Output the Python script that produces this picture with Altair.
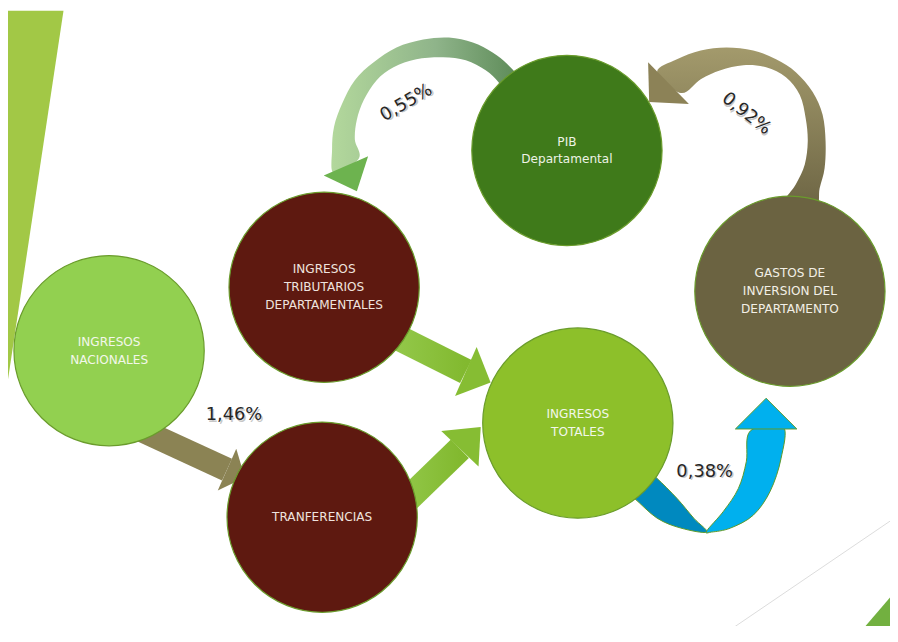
import math
import altair as alt
import pandas as pd

# ---------------- plot frame (diagram coordinates = picture pixels) ----------------
XMIN, XMAX = 8, 898
YMIN, YMAX = 8, 626
W, H = XMAX - XMIN, YMAX - YMIN
LINE_H = 18

# ---------------- nodes ----------------
node_label = [
    "INGRESOS\nNACIONALES",
    "INGRESOS\nTRIBUTARIOS\nDEPARTAMENTALES",
    "TRANFERENCIAS",
    "INGRESOS\nTOTALES",
    "PIB\nDepartamental",
    "GASTOS DE\nINVERSION DEL\nDEPARTAMENTO",
]
node_x = [110, 327, 325, 583, 572, 797]
node_y = [351, 287, 519, 424, 149, 291]
node_fill = ["#92d050", "#5e1910", "#5e1910", "#8dc02a", "#3f7a1a", "#6b6341"]
node_text_color = ["#f2f7ea", "#efe3df", "#efe3df", "#f2f7ea", "#eef3e6", "#f2efe6"]

# ---------------- percentage labels ----------------
pct_text = ["1,46%", "0,55%", "0,92%", "0,38%"]
pct_x = [236, 410, 753, 711]
pct_y = [416, 101, 112, 473]
pct_angle = [0, 330, 38, 0]

# ---------------- arrows ----------------
a_nac_tra_x = [140, 229]
a_nac_tra_y = [430, 471]
a_nac_tra_head = (229, 471, 247, 479, 23)

a_tri_tot_x = [398, 470]
a_tri_tot_y = [336, 372]
a_tri_tot_head = (470, 372, 495, 383, 27)

a_tra_tot_x = [402, 464]
a_tra_tot_y = [510, 450]
a_tra_tot_head = (464, 450, 485, 428, 26)

# blue folded ribbon: outlines of the two parts
a_tot_gas_dark_x = [628, 640, 663, 687, 713, 700, 683, 663, 650]
a_tot_gas_dark_y = [492, 500, 520, 530, 534, 520, 500, 480, 470]
a_tot_gas_x = [713, 730, 745, 753, 757, 790, 788, 777, 760, 737, 718]
a_tot_gas_y = [533, 513, 490, 463, 432, 427, 460, 493, 517, 530, 534]
a_tot_gas_head = (773, 430, 773, 399, 31)

# olive ribbon outline (outer edge, then inner edge back)
a_gas_pib_x = [663, 683, 707, 733, 760, 783, 803, 820, 830, 833, 832, 827, 822,
               788, 803, 812, 815, 813, 807, 793, 773, 750, 727, 707, 687]
a_gas_pib_y = [70, 57, 48, 45, 48, 57, 70, 90, 113, 140, 167, 187, 208,
               208, 183, 163, 140, 117, 93, 75, 65, 63, 68, 77, 91]
a_gas_pib_head = (674.5, 81, 655, 100, 29.5)

# green ribbon outline (outer edge, then inner edge back)
a_pib_tri_x = [337, 335, 337, 345, 358, 377, 400, 427, 453, 477, 497, 512, 525,
               512, 503, 490, 470, 447, 420, 397, 380, 367, 360, 358, 362]
a_pib_tri_y = [172, 148, 125, 102, 78, 60, 45, 37, 35, 40, 50, 62, 80,
               95, 80, 68, 58, 55, 57, 65, 78, 98, 118, 138, 157]
a_pib_tri_head = (349, 164.5, 360, 190, 24.4)

# decorations
deco_left_x = [64, 8]
deco_left_y = [8, 380]
deco_br_x = [898, 862]
deco_br_y = [600, 642]
deco_line_x = [723, 898]
deco_line_y = [642, 523]

X = alt.X("x:Q", scale=alt.Scale(domain=[XMIN, XMAX], nice=False, zero=False), axis=None)
Y = alt.Y("y:Q", scale=alt.Scale(domain=[YMIN, YMAX], nice=False, zero=False, reverse=True), axis=None)


def shaft(xs, ys, width, stroke, interp="linear"):
    df = pd.DataFrame({"x": xs, "y": ys, "i": list(range(len(xs)))})
    return alt.Chart(df).mark_line(
        strokeWidth=width, strokeCap="butt", strokeJoin="round",
        interpolate=interp, stroke=stroke
    ).encode(x=X, y=Y, order="i:Q")


def ribbon(xs, ys, fill, stroke=None):
    df = pd.DataFrame({"x": xs, "y": ys, "i": list(range(len(xs)))})
    kw = dict(interpolate="cardinal-closed", fill=fill, strokeJoin="round")
    if stroke:
        kw.update(stroke=stroke, strokeWidth=1)
    else:
        kw.update(strokeWidth=0)
    return alt.Chart(df).mark_line(**kw).encode(x=X, y=Y, order="i:Q")


def head(spec, fill, stroke=None):
    bx, by, tx, ty, hw = spec
    L = math.hypot(tx - bx, ty - by)
    theta = math.degrees(math.atan2(ty - by, tx - bx))
    ang = (theta + 90) % 360
    path = "M-1,0L1,0L0,%.3fZ" % (-L / hw)
    df = pd.DataFrame({"x": [bx], "y": [by]})
    kw = dict(shape=path, size=(2 * hw) ** 2, angle=ang, filled=True,
              fill=fill, opacity=1)
    if stroke:
        kw.update(stroke=stroke, strokeWidth=1)
    else:
        kw.update(strokeWidth=0)
    return alt.Chart(df).mark_point(**kw).encode(x=X, y=Y)


def grad(c0, c1, x1=0, y1=0, x2=1, y2=0, mid=None):
    stops = [alt.GradientStop(color=c0, offset=0)]
    if mid:
        stops.append(alt.GradientStop(color=mid[0], offset=mid[1]))
    stops.append(alt.GradientStop(color=c1, offset=1))
    return alt.Gradient(gradient="linear", stops=stops, x1=x1, y1=y1, x2=x2, y2=y2)


layers = []

# decorations
layers.append(
    alt.Chart(pd.DataFrame({"x": deco_left_x, "y": deco_left_y, "x0": [8, 8]}))
    .mark_area(orient="horizontal", color="#a2c846")
    .encode(y=Y, x=X, x2="x0:Q")
)
layers.append(
    alt.Chart(pd.DataFrame({"x": deco_br_x, "y": deco_br_y, "x0": [898, 898]}))
    .mark_area(orient="horizontal", color="#72b040")
    .encode(y=Y, x=X, x2="x0:Q")
)
layers.append(shaft(deco_line_x, deco_line_y, 1, "#dcdcdc"))

# straight arrows
layers.append(shaft(a_nac_tra_x, a_nac_tra_y, 24, "#8b8354"))
layers.append(head(a_nac_tra_head, "#8b8354"))

layers.append(shaft(a_tri_tot_x, a_tri_tot_y, 26, grad("#93c84a", "#82b92f")))
layers.append(head(a_tri_tot_head, "#86bd33"))

layers.append(shaft(a_tra_tot_x, a_tra_tot_y, 26, grad("#93c84a", "#82b92f")))
layers.append(head(a_tra_tot_head, "#86bd33"))

# curved blue arrow (folded ribbon, thin green outline)
layers.append(ribbon(a_tot_gas_dark_x, a_tot_gas_dark_y, "#0089bf", "#5f9a2a"))
layers.append(ribbon(a_tot_gas_x, a_tot_gas_y, "#00b0ee", "#5f9a2a"))
layers.append(head(a_tot_gas_head, "#00b0ee", stroke="#5f9a2a"))

# curved olive arrow
layers.append(ribbon(a_gas_pib_x, a_gas_pib_y, grad("#a39a6c", "#6c6443", 0, 0, 0, 1)))
layers.append(head(a_gas_pib_head, "#8c8257"))

# curved green arrow
layers.append(ribbon(a_pib_tri_x, a_pib_tri_y,
                     grad("#b3d89c", "#5c8a57", 0, 0, 1, 0, mid=("#8fb48a", 0.55))))
layers.append(head(a_pib_tri_head, "#6db34f"))

# circles
n_lines = [lab.count("\n") + 1 for lab in node_label]
nodes = pd.DataFrame({
    "x": node_x, "y": node_y, "label": node_label,
    "fill": node_fill, "tc": node_text_color,
    "ty": [y - (n - 1) * LINE_H / 2 for y, n in zip(node_y, n_lines)],
})
layers.append(
    alt.Chart(nodes).mark_point(shape="circle", filled=True, size=192 ** 2, opacity=1,
                                stroke="#6a9c2c", strokeWidth=1.2)
    .encode(x=X, y=Y, fill=alt.Fill("fill:N", scale=None))
)
layers.append(
    alt.Chart(nodes).mark_text(font="DejaVu Sans", fontSize=12.2, lineBreak="\n",
                               lineHeight=LINE_H, align="center", baseline="middle")
    .encode(x=X, y=alt.Y("ty:Q", scale=alt.Scale(domain=[YMIN, YMAX], nice=False, zero=False, reverse=True), axis=None),
            text="label:N", color=alt.Color("tc:N", scale=None))
)

# percentages (with a soft shadow)
pct = pd.DataFrame({"x": pct_x, "y": pct_y, "t": pct_text, "a": pct_angle})
layers.append(
    alt.Chart(pct).mark_text(font="DejaVu Sans", fontSize=18, align="center", baseline="middle",
                             color="#9a9a9a", opacity=0.55, dx=1.5, dy=1.5)
    .encode(x=X, y=Y, text="t:N", angle=alt.Angle("a:Q", scale=None))
)
layers.append(
    alt.Chart(pct).mark_text(font="DejaVu Sans", fontSize=18, align="center", baseline="middle",
                             color="#262626")
    .encode(x=X, y=Y, text="t:N", angle=alt.Angle("a:Q", scale=None))
)

chart = alt.layer(*layers).properties(
    width=W, height=H, padding=0, autosize=alt.AutoSizeParams(type="none"),
    background="white",
).configure_view(strokeWidth=0)

chart.save("out.html", embed_options={"renderer": "svg", "actions": False})
